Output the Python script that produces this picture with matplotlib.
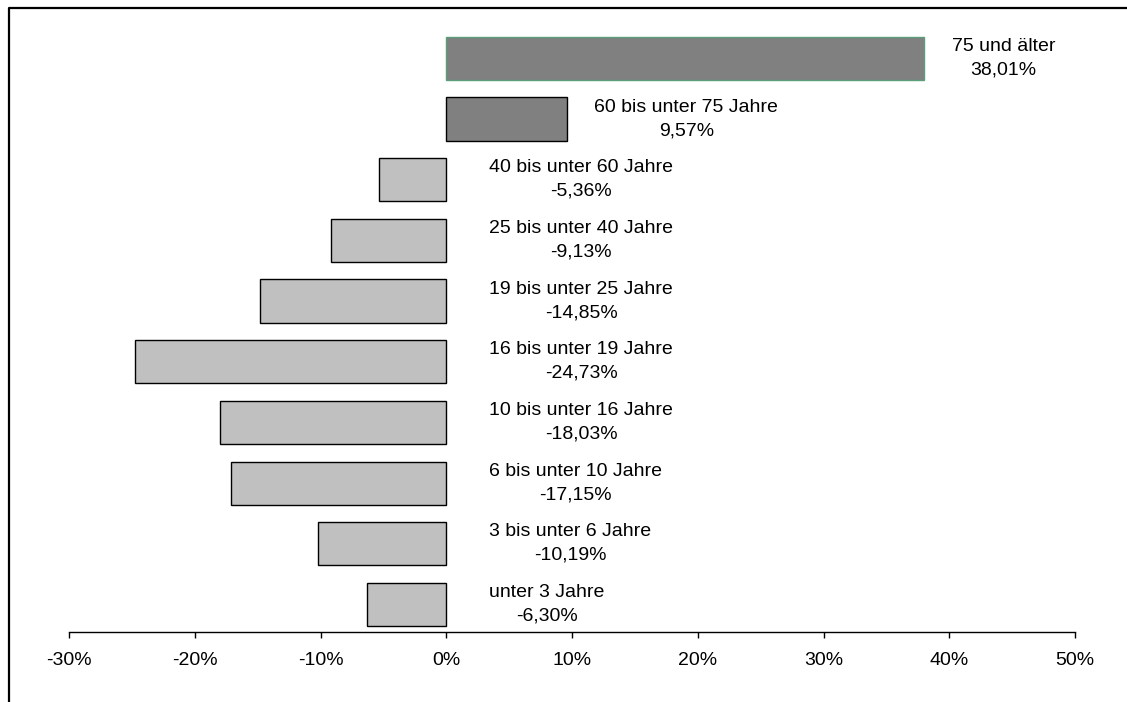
import numpy as np
import matplotlib.pyplot as plt
from matplotlib.lines import Line2D

plt.rcParams['font.family'] = ['Liberation Sans', 'DejaVu Sans']

# Daten (von unten nach oben)
gruppen = ['unter 3 Jahre', '3 bis unter 6 Jahre', '6 bis unter 10 Jahre',
           '10 bis unter 16 Jahre', '16 bis unter 19 Jahre', '19 bis unter 25 Jahre',
           '25 bis unter 40 Jahre', '40 bis unter 60 Jahre', '60 bis unter 75 Jahre',
           '75 und älter']
werte = [-6.30, -10.19, -17.15, -18.03, -24.73, -14.85, -9.13, -5.36, 9.57, 38.01]
xticks = [-30, -20, -10, 0, 10, 20, 30, 40, 50]

fig = plt.figure(figsize=(11.27, 7.02), dpi=100)
ax = fig.add_axes([69/1127, 1 - 632/702, (1075 - 69)/1127, 604/702])

y = np.arange(len(werte))
farben = ['#808080' if w > 0 else '#c0c0c0' for w in werte]
kanten = ['black'] * len(werte)
kanten[-1] = '#5a9e7a'
ax.barh(y, werte, height=0.71, color=farben, edgecolor=kanten, linewidth=1)

for yi, w, g in zip(y, werte, gruppen):
    txt = g + '\n' + ('%.2f%%' % w).replace('.', ',')
    off = 20 if w > 0 else 31
    ax.annotate(txt, xy=(max(w, 0), yi), xytext=(off, 0), textcoords='offset points',
                ha='left', va='center', multialignment='center', fontsize=14,
                linespacing=1.5)

ax.set_xlim(-30, 50)
ax.set_ylim(-0.455, 9.5)
ax.set_xticks(xticks)
ax.set_xticklabels(['%d%%' % t for t in xticks], fontsize=14)
ax.set_yticks([])
for s in ['left', 'right', 'top']:
    ax.spines[s].set_visible(False)
ax.spines['bottom'].set_linewidth(1)
ax.tick_params(axis='x', direction='out', length=4.5, width=1, pad=10)

# Rahmen (links und oben)
fx = 8.5/1127
fy = 1 - 8/702
fig.add_artist(Line2D([fx, fx, 1], [0, fy, fy], transform=fig.transFigure,
                      color='black', linewidth=1.6))

fig.savefig('out.png', dpi=100)
